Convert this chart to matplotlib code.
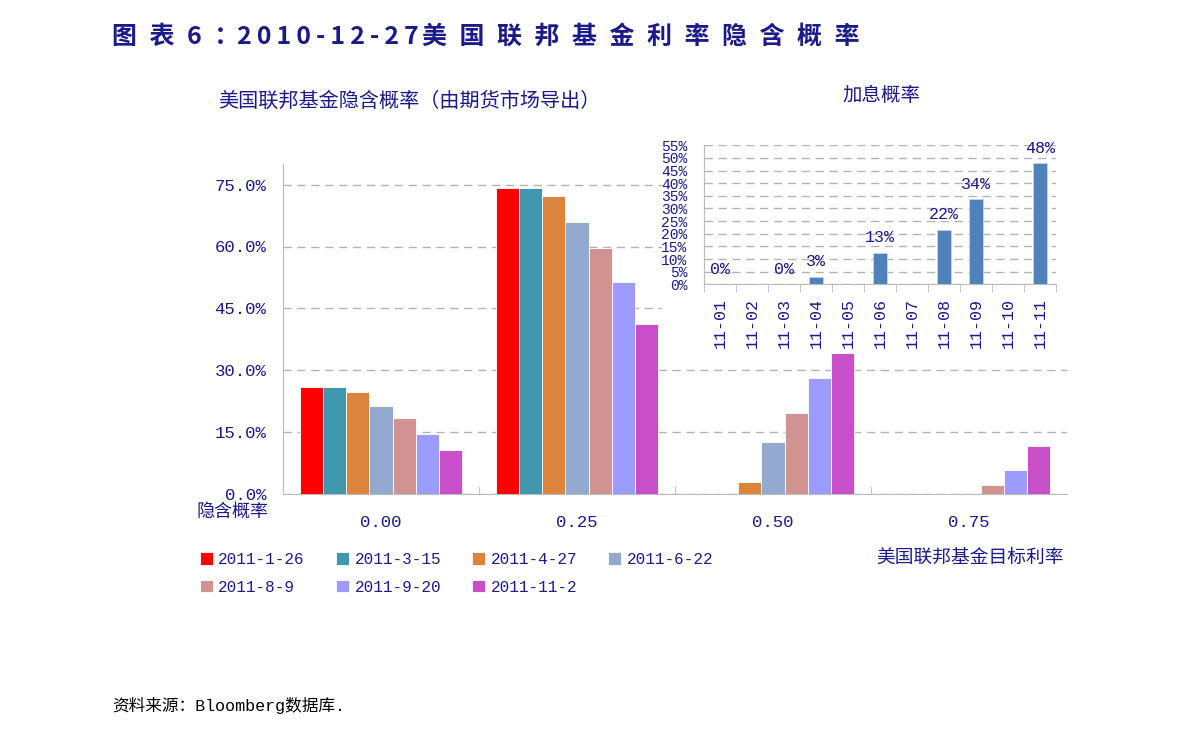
import matplotlib
matplotlib.use("Agg")
import matplotlib.pyplot as plt
from matplotlib.patches import Rectangle
import numpy as np

# main chart data (implied probability by target rate, %)
rates = ["0.00", "0.25", "0.50", "0.75"]
dates = ["2011-1-26", "2011-3-15", "2011-4-27", "2011-6-22",
         "2011-8-9", "2011-9-20", "2011-11-2"]
colors = ["#ff0000", "#4197ad", "#db843d", "#93a9cf",
          "#d19392", "#9c9cff", "#c84fc8"]
probs = [
    [26.0, 74.1, 0.0, 0.0],
    [26.0, 74.1, 0.0, 0.0],
    [24.8, 72.3, 3.0, 0.0],
    [21.4, 65.9, 12.5, 0.0],
    [18.5, 59.6, 19.7, 2.1],
    [14.6, 51.5, 28.1, 5.7],
    [10.7, 41.3, 34.1, 11.7],
]

# inset: hike probability by month
months = ["11-01", "11-02", "11-03", "11-04", "11-05", "11-06",
          "11-07", "11-08", "11-09", "11-10", "11-11"]
hike = [0, np.nan, 0, 2.9, np.nan, 12.4, np.nan, 21.5, 33.6, np.nan, 47.9]
hike_labels = ["0%", "", "0%", "3%", "", "13%", "", "22%", "34%", "", "48%"]

navy = "#1a1a8a"
num_font = ["Liberation Mono", "Noto Sans CJK SC"]
cjk_font = ["Noto Sans CJK SC", "DejaVu Sans"]

W, H = 1191, 733
fig = plt.figure(figsize=(W / 100, H / 100), dpi=100)

def fx(px):
    return px / W

def fy(py):
    return 1 - py / H

# main axes
ax = fig.add_axes([fx(283), fy(494), fx(1067) - fx(283), fy(164) - fy(494)])
x = np.arange(len(rates))
bw = 0.118
handles = []
for i, (d, c) in enumerate(zip(dates, colors)):
    off = (i - (len(dates) - 1) / 2) * bw
    b = ax.bar(x + off, probs[i], bw, color=c, edgecolor="white", linewidth=0.6,
               label=d, zorder=3)
    handles.append(b)

ax.set_xlim(-0.5, 3.5)
ax.set_ylim(0, 80)
ax.set_yticks([0, 15, 30, 45, 60, 75])
ax.set_yticklabels(["%.1f%%" % v for v in [0, 15, 30, 45, 60, 75]],
                   family=num_font, fontsize=12.5, color=navy)
ax.set_xticks(x)
ax.set_xticklabels(rates, family=num_font, fontsize=12.5, color=navy)
ax.set_xticks(np.arange(0.5, 3.5, 1), minor=True)
ax.tick_params(axis="x", which="major", length=0, pad=15)
ax.tick_params(axis="x", which="minor", direction="in", length=6, color="#bbbbbb")
ax.tick_params(axis="y", length=0, pad=12)
ax.yaxis.grid(True, linestyle=(0, (6, 4)), color="#b4b4b4", linewidth=1)
ax.set_axisbelow(True)
for s in ["top", "right"]:
    ax.spines[s].set_visible(False)
for s in ["left", "bottom"]:
    ax.spines[s].set_color("#bbbbbb")

# white area behind inset
fig.add_artist(Rectangle((fx(662), fy(350)), fx(1070) - fx(662), fy(140) - fy(350),
                         transform=fig.transFigure, facecolor="white",
                         edgecolor="none", zorder=1))

# inset axes
ins = fig.add_axes([fx(704), fy(284.3), fx(1056) - fx(704), fy(145.3) - fy(284.3)],
                   zorder=2)
xi = np.arange(len(months))
ins.bar(xi, hike, 0.42, color="#4f81bd", edgecolor="#c6d4e8", linewidth=0.6, zorder=3)
for xx, v, lab in zip(xi, hike, hike_labels):
    if lab:
        ins.text(xx, v + 3, lab, ha="center", va="bottom", family=num_font,
                 fontsize=12, color=navy)
ins.set_xlim(-0.5, 10.5)
ins.set_ylim(0, 55)
ins.set_yticks(np.arange(0, 56, 5))
ins.set_yticklabels(["%d%%" % v for v in np.arange(0, 56, 5)],
                    family=num_font, fontsize=10.5, color=navy)
ins.set_xticks(xi)
ins.set_xticklabels(months, rotation=90, family=num_font, fontsize=12, color=navy)
ins.set_xticks(np.arange(-0.5, 11, 1), minor=True)
ins.tick_params(axis="x", which="major", length=0, pad=10)
ins.tick_params(axis="x", which="minor", direction="out", length=6, color="#bbbbbb")
ins.tick_params(axis="y", length=0, pad=12)
ins.yaxis.grid(True, linestyle=(0, (6, 4)), color="#b4b4b4", linewidth=1)
ins.set_axisbelow(True)
for s in ["top", "right"]:
    ins.spines[s].set_visible(False)
for s in ["left", "bottom"]:
    ins.spines[s].set_color("#bbbbbb")

# legend, filled row by row
order = [0, 4, 1, 5, 2, 6, 3]
fig.legend([handles[k] for k in order], [dates[k] for k in order], ncol=4,
           loc="upper left", bbox_to_anchor=(fx(200), fy(552)), frameon=False,
           borderpad=0, borderaxespad=0, handlelength=0.8, handleheight=0.8,
           handletextpad=0.35, columnspacing=1.95, labelspacing=0.8,
           prop={"family": num_font, "size": 11.5}, labelcolor=navy)

# texts
tkw = dict(family=cjk_font, fontsize=18, fontweight="bold", color=navy,
           ha="left", va="center")
fig.text(fx(112), fy(37), "\u2002".join("图表6："), **tkw)
fig.text(fx(237), fy(37), "\u2009".join("2010-12-27"), **tkw)
fig.text(fx(422), fy(37), "\u2002".join("美国联邦基金利率隐含概率"), **tkw)
fig.text(fx(218), fy(101), "美国联邦基金隐含概率（由期货市场导出）", family=cjk_font,
         fontsize=14.5, color=navy, ha="left", va="center")
fig.text(fx(842), fy(95), "加息概率", family=cjk_font, fontsize=14, color=navy,
         ha="left", va="center")
fig.text(fx(197), fy(512), "隐含概率", family=cjk_font, fontsize=13, color=navy,
         ha="left", va="center")
fig.text(fx(1064), fy(557), "美国联邦基金目标利率", family=cjk_font, fontsize=13.5,
         color=navy, ha="right", va="center")
fig.text(fx(112), fy(705), "资料来源：Bloomberg数据库.", family=num_font,
         fontsize=12, color="black", ha="left", va="center")

fig.savefig("out.png", dpi=100, facecolor="white")
